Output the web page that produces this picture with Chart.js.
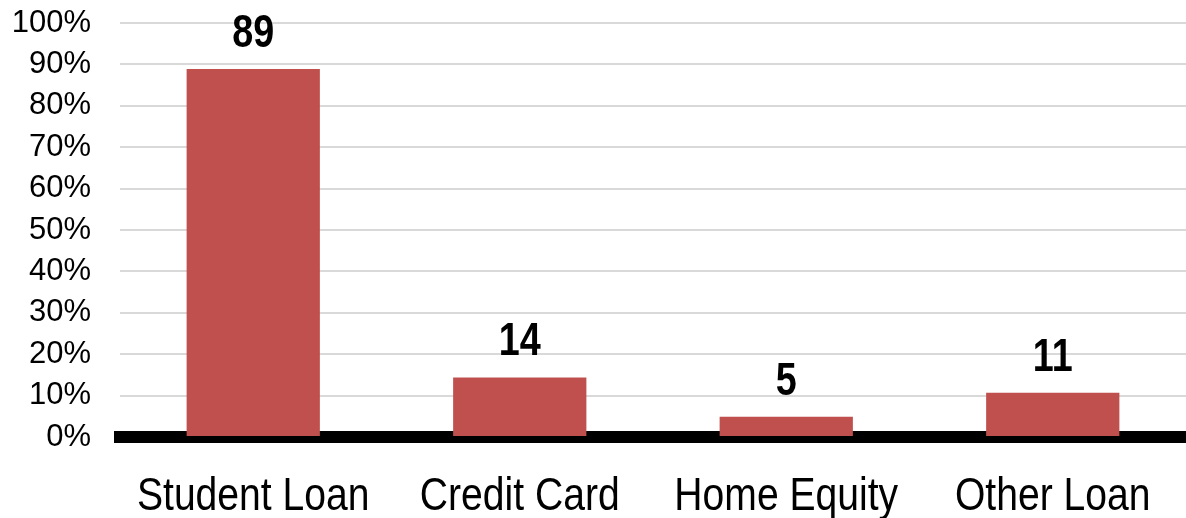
<!DOCTYPE html>
<html>
<head>
<meta charset="utf-8">
<script src="https://cdn.jsdelivr.net/npm/chart.js@4"></script>
<style>
  html, body { margin: 0; padding: 0; background: #fff; }
  #wrap { width: 1186px; height: 518px; }
</style>
</head>
<body>
<div id="wrap"><canvas id="loanChart"></canvas></div>
<script>
const categories = ['Student Loan', 'Credit Card', 'Home Equity', 'Other Loan'];
const shares = [88.9, 14.4, 4.9, 10.7];
const barLabels = ['89', '14', '5', '11'];

// narrow text: no Arial Narrow here, so squeeze Liberation Sans sideways
function narrowText(ctx, text, x, y, sx) {
    ctx.save();
    ctx.translate(x, y);
    ctx.scale(sx, 1);
    ctx.fillText(text, 0, 0);
    ctx.restore();
}

// bold numbers above bars + category names under the axis
const textLayer = {
    id: 'textLayer',
    afterDraw(chart) {
        const ctx = chart.ctx;
        const bars = chart.getDatasetMeta(0).data;
        const xs = chart.scales.x;
        ctx.save();
        ctx.fillStyle = '#000';
        ctx.textAlign = 'center';
        ctx.textBaseline = 'alphabetic';
        ctx.font = 'bold 46px "Liberation Sans", Arial, sans-serif';
        bars.forEach((bar, i) => narrowText(ctx, barLabels[i], bar.x, bar.y - 22, 0.82));
        ctx.font = '46px "Liberation Sans", Arial, sans-serif';
        categories.forEach((c, i) => narrowText(ctx, c, xs.getPixelForTick(i), 510, 0.85));
        ctx.restore();
    }
};

const ctx = document.getElementById('loanChart').getContext('2d');
const loanChart = new Chart(ctx, {
    type: 'bar',
    data: {
        labels: categories,
        datasets: [{
            data: shares,
            backgroundColor: '#C0504D',
            borderWidth: 0,
            categoryPercentage: 1,
            barPercentage: 0.5
        }]
    },
    options: {
        responsive: true,
        maintainAspectRatio: false,
        animation: false,
        layout: { padding: { top: 0, right: 0, bottom: 75, left: 0 } },
        plugins: {
            legend: { display: false },
            tooltip: { enabled: false }
        },
        scales: {
            x: {
                grid: { display: false },
                border: { display: true, color: '#000', width: 12 },
                ticks: { display: false },
                afterFit: s => { s.height = 6; }
            },
            y: {
                min: 0,
                max: 100,
                grid: { color: '#d9d9d9', lineWidth: 2, drawTicks: false },
                border: { display: false },
                ticks: {
                    stepSize: 10,
                    autoSkip: false,
                    color: '#000',
                    padding: 29,
                    font: { family: '"Liberation Sans", Arial, sans-serif', size: 31 },
                    callback: v => v + '%'
                },
                afterFit: s => {
                    s.width = 120;
                    s.paddingTop = 23;
                    s.paddingBottom = 0;
                }
            }
        }
    },
    plugins: [textLayer]
});
</script>
</body>
</html>
